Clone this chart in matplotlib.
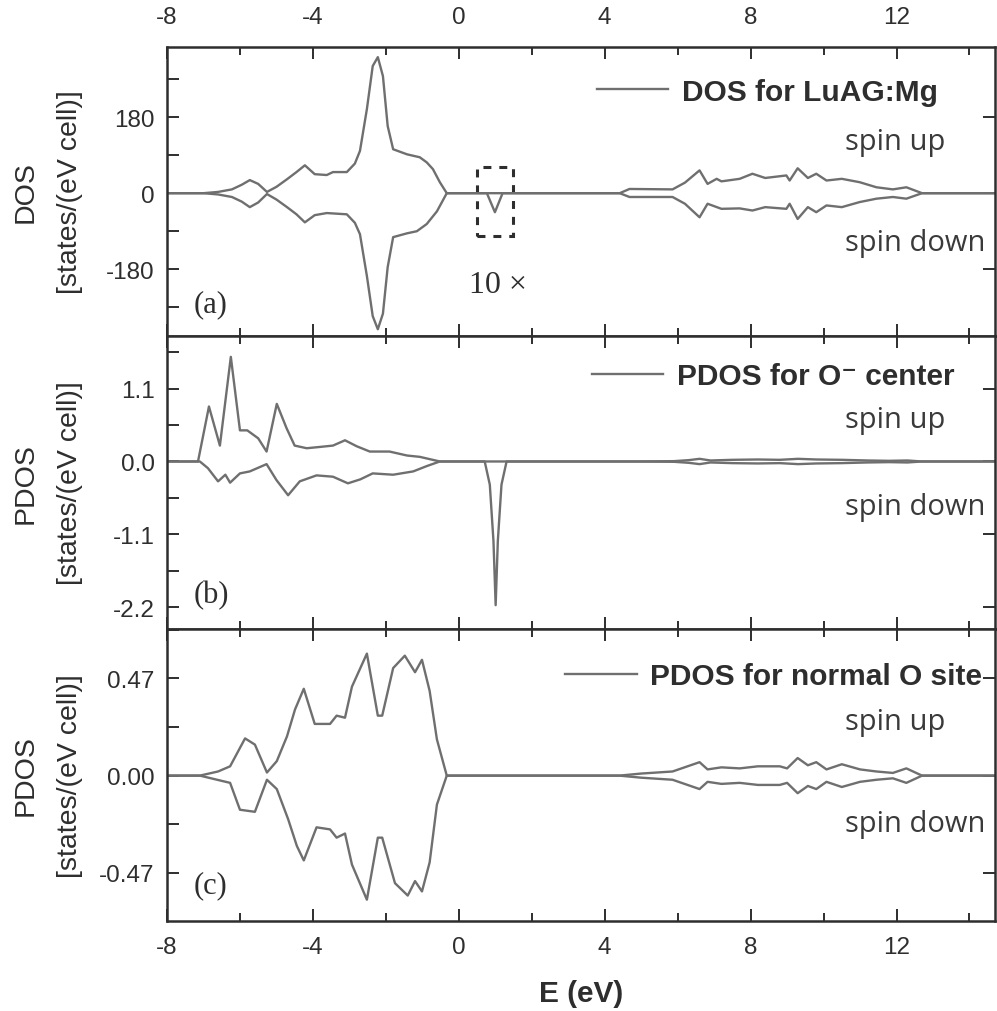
import matplotlib
matplotlib.use("Agg")
import matplotlib.pyplot as plt
from matplotlib.patches import Rectangle
from matplotlib.font_manager import FontProperties
from matplotlib.ticker import MultipleLocator, FixedLocator, FixedFormatter

plt.rcParams['font.family'] = ['Liberation Sans', 'DejaVu Sans']
plt.rcParams['axes.unicode_minus'] = False

# ---- (a) total DOS for LuAG:Mg ----
a_up_E = [-8.0, -7.0, -6.6, -6.22, -5.95, -5.73, -5.5, -5.26, -5.0, -4.71, -4.45, -4.22, -3.95, -3.62,
          -3.45, -3.07, -2.85, -2.71, -2.52, -2.36, -2.22, -2.08, -1.95, -1.8, -1.42, -1.07, -0.88,
          -0.71, -0.52, -0.33, 4.41, 4.68, 5.86, 6.2, 6.6, 6.82, 7.07, 7.2, 7.7, 8.05, 8.4, 8.98,
          9.07, 9.29, 9.57, 9.8, 10.08, 10.5, 10.99, 11.45, 11.9, 12.27, 12.7, 14.7]
a_up = [0, 0, 3, 9, 20, 31, 22, 3, 15, 33, 50, 66, 45, 43, 50, 50, 70, 100, 199, 301, 322, 277, 159,
        104, 92, 85, 73, 57, 26, 0, 0, 10, 9, 25, 54, 22, 34, 28, 34, 46, 36, 42, 30, 59, 36, 46, 30,
        34, 26, 14, 9, 14, 0, 0]
a_dn_E = [-8.0, -7.0, -6.6, -6.22, -5.95, -5.73, -5.5, -5.26, -5.0, -4.71, -4.45, -4.22, -3.95, -3.62,
          -3.07, -2.85, -2.71, -2.52, -2.36, -2.22, -2.08, -1.95, -1.8, -1.42, -1.15, -0.88, -0.6,
          -0.33, 0.77, 0.99, 1.2, 4.41, 4.68, 5.86, 6.2, 6.6, 6.82, 7.2, 7.7, 8.05, 8.4, 8.98, 9.07,
          9.29, 9.57, 9.8, 10.08, 10.5, 10.99, 11.45, 11.9, 12.27, 12.7, 14.7]
a_dn = [0, 0, -3, -9, -20, -33, -22, -2, -15, -33, -50, -69, -52, -47, -50, -70, -97, -196, -291,
        -322, -285, -175, -104, -95, -90, -73, -43, 0, 0, -45, 0, 0, -9, -9, -25, -57, -25, -37, -36,
        -41, -33, -37, -25, -61, -33, -45, -29, -33, -21, -13, -9, -13, 0, 0]

# ---- (b) PDOS for O- center ----
b_up_E = [-8, -7.15, -6.85, -6.55, -6.25, -6.0, -5.8, -5.5, -5.27, -4.99, -4.72, -4.5, -4.17, -3.8,
          -3.45, -3.12, -2.8, -2.44, -1.9, -1.42, -1.07, -0.52, 4.8, 5.9, 6.3, 6.6, 6.9, 7.5, 8.2,
          8.8, 9.3, 9.8, 10.5, 11.2, 11.8, 12.3, 12.7, 14.7]
b_up = [0, 0, 0.83, 0.24, 1.58, 0.47, 0.47, 0.35, 0.15, 0.87, 0.5, 0.24, 0.2, 0.22, 0.24, 0.32, 0.23,
        0.15, 0.15, 0.09, 0.07, 0, 0, 0.005, 0.02, 0.04, 0.015, 0.025, 0.03, 0.025, 0.04, 0.03,
        0.025, 0.015, 0.01, 0.015, 0, 0]
b_dn_E = [-8, -7.1, -6.88, -6.6, -6.4, -6.27, -6.0, -5.73, -5.27, -5.0, -4.68, -4.36, -3.9, -3.45,
          -3.04, -2.7, -2.36, -1.8, -1.25, -0.88, -0.52, 0.71, 0.85, 0.95, 1.01, 1.07, 1.17, 1.31,
          4.8, 5.9, 6.3, 6.6, 6.9, 7.5, 8.2, 8.8, 9.3, 9.8, 10.5, 11.2, 11.8, 12.3, 12.7, 14.7]
b_dn = [0, 0, -0.1, -0.3, -0.2, -0.32, -0.18, -0.15, -0.04, -0.28, -0.51, -0.3, -0.21, -0.23, -0.33,
        -0.27, -0.18, -0.2, -0.15, -0.07, 0, 0, -0.35, -1.2, -2.17, -1.2, -0.35, 0, 0, -0.005, -0.02,
        -0.04, -0.015, -0.025, -0.03, -0.025, -0.04, -0.03, -0.025, -0.015, -0.01, -0.015, 0, 0]

# ---- (c) PDOS for normal O site ----
c_up_E = [-8, -7.1, -6.6, -6.27, -5.86, -5.59, -5.26, -4.99, -4.71, -4.49, -4.25, -3.95, -3.53, -3.35,
          -3.12, -2.93, -2.52, -2.22, -2.1, -1.8, -1.48, -1.2, -1.01, -0.8, -0.6, -0.33, 4.4, 5.0,
          5.86, 6.6, 6.82, 7.2, 7.7, 8.2, 8.8, 9.0, 9.29, 9.57, 9.8, 10.08, 10.5, 11.0, 11.45, 11.9,
          12.27, 12.7, 14.7]
c_up = [0, 0, 0.02, 0.045, 0.18, 0.15, 0.015, 0.07, 0.19, 0.32, 0.42, 0.25, 0.25, 0.29, 0.28, 0.43,
        0.59, 0.29, 0.29, 0.52, 0.58, 0.5, 0.56, 0.41, 0.175, 0, 0, 0.01, 0.02, 0.065, 0.03, 0.04,
        0.035, 0.045, 0.045, 0.035, 0.085, 0.05, 0.065, 0.03, 0.055, 0.03, 0.02, 0.013, 0.035, 0, 0]
c_dn_E = [-8, -7.1, -6.27, -6.0, -5.59, -5.26, -4.99, -4.68, -4.44, -4.25, -3.9, -3.53, -3.35, -3.12,
          -2.93, -2.52, -2.22, -2.1, -1.75, -1.4, -1.2, -1.01, -0.8, -0.6, -0.33, 4.4, 5.0, 5.86,
          6.6, 6.82, 7.2, 7.7, 8.2, 8.8, 9.0, 9.29, 9.57, 9.8, 10.08, 10.5, 11.0, 11.45, 11.9,
          12.27, 12.7, 14.7]
c_dn = [0, 0, -0.035, -0.165, -0.175, -0.02, -0.065, -0.21, -0.34, -0.41, -0.25, -0.26, -0.3, -0.28,
        -0.43, -0.6, -0.3, -0.3, -0.52, -0.58, -0.51, -0.56, -0.42, -0.14, 0, 0, -0.01, -0.02,
        -0.065, -0.03, -0.04, -0.035, -0.045, -0.045, -0.035, -0.085, -0.05, -0.065, -0.03, -0.055,
        -0.03, -0.02, -0.013, -0.035, 0, 0]

legend_labels = ["DOS for LuAG:Mg", "PDOS for O\u207b center", "PDOS for normal O site"]
ylabel_names = ["DOS", "PDOS", "PDOS"]
panel_tags = ["(a)", "(b)", "(c)"]
ytick_vals = [[-180, 0, 180], [-2.2, -1.1, 0.0, 1.1], [-0.47, 0.0, 0.47]]
ytick_text = [["-180", "0", "180"], ["-2.2", "-1.1", "0.0", "1.1"], ["-0.47", "0.00", "0.47"]]
yminor_step = [90, 0.55, 0.235]
ylims = [(-338, 346), (-2.53, 1.895), (-0.703, 0.709)]
xlim = (-8, 14.7)
box_E = (0.49, 1.48)      # dashed "10x" box
box_D = (-102, 62)

line_c = '#6f6f6f'
ink = '#2e2e2e'

fig = plt.figure(figsize=(9.97, 10.12), dpi=100)
W, H = 997, 1012
rects = [(48, 337), (337, 630), (630, 922)]
axes = []
for (t, b) in rects:
    ax = fig.add_axes([167 / W, (H - b) / H, 828 / W, (b - t) / H])
    axes.append(ax)

data = [(a_up_E, a_up, a_dn_E, a_dn), (b_up_E, b_up, b_dn_E, b_dn), (c_up_E, c_up, c_dn_E, c_dn)]
leg_anchor = [(0.519, 0.846), (0.513, 0.862), (0.481, 0.838)]
spin_y = [(0.647, 0.298), (0.689, 0.392), (0.658, 0.308)]
tag_y = [0.086, 0.092, 0.099]

leg_font = FontProperties(family=['Liberation Sans', 'DejaVu Sans'], weight='bold', size=21.5)

for i, ax in enumerate(axes):
    uE, u, dE, d = data[i]
    ln, = ax.plot(uE, u, color=line_c, lw=1.7, label=legend_labels[i])
    ax.plot(dE, d, color=line_c, lw=1.7)
    ax.set_xlim(*xlim)
    ax.set_ylim(*ylims[i])

    ax.xaxis.set_major_locator(MultipleLocator(4))
    ax.xaxis.set_minor_locator(MultipleLocator(2))
    ax.yaxis.set_major_locator(FixedLocator(ytick_vals[i]))
    ax.yaxis.set_major_formatter(FixedFormatter(ytick_text[i]))
    ax.yaxis.set_minor_locator(MultipleLocator(yminor_step[i]))

    ax.tick_params(axis='x', which='both', direction='in', top=True, bottom=True,
                   width=1.4, color=ink, labelsize=17.5, labelcolor=ink,
                   labelbottom=(i == 2), labeltop=(i == 0))
    ax.tick_params(axis='x', which='major', length=8.5, pad=11)
    ax.tick_params(axis='x', which='minor', length=5.5)
    if i == 0:
        ax.tick_params(axis='x', which='major', pad=14)
    ax.tick_params(axis='y', which='both', direction='in', left=True, right=True,
                   width=1.4, color=ink, length=8.5, labelsize=17.5, labelcolor=ink, pad=9)
    ax.tick_params(axis='y', which='minor', right=False)
    ax.tick_params(axis='y', which='major', right=True)
    for s in ax.spines.values():
        s.set_linewidth(1.8)
        s.set_color(ink)

    ax.set_ylabel(ylabel_names[i] + "\n[states/(eV cell)]", fontsize=20.5, color=ink,
                  linespacing=1.92)
    ax.yaxis.set_label_coords(-0.101, 0.5)

    ax.legend(handles=[ln], loc='center left', bbox_to_anchor=leg_anchor[i], frameon=False,
              prop=leg_font, handlelength=2.4, handletextpad=0.45, borderpad=0,
              borderaxespad=0, labelcolor=ink)

    ax.text(0.819, spin_y[i][0], "spin up", transform=ax.transAxes, fontsize=21,
            family='Open Sans', color='#3a3a3a', va='baseline', ha='left')
    ax.text(0.819, spin_y[i][1], "spin down", transform=ax.transAxes, fontsize=21,
            family='Open Sans', color='#3a3a3a', va='baseline', ha='left')
    ax.text(0.032, tag_y[i], panel_tags[i], transform=ax.transAxes, fontsize=22,
            family='Liberation Serif', color=ink, va='baseline', ha='left')

# dashed box marking the magnified region in (a)
axes[0].add_patch(Rectangle((box_E[0], box_D[0]), box_E[1] - box_E[0], box_D[1] - box_D[0],
                            fill=False, edgecolor=ink, lw=2.2, linestyle=(0, (2.6, 2.6))))
axes[0].text(1.07, -234, "10 \u00d7", fontsize=23, family='Liberation Serif', color=ink,
             ha='center', va='baseline')

axes[2].set_xlabel("E (eV)", fontsize=21.5, fontweight='bold', color=ink, labelpad=15)

fig.savefig("out.png", dpi=100)
